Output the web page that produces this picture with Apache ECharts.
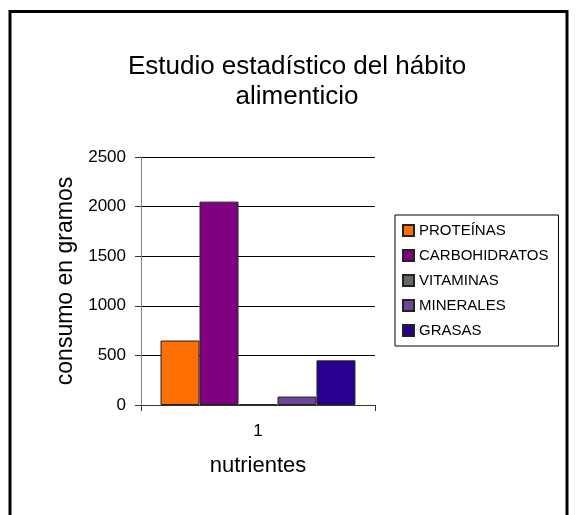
<!DOCTYPE html>
<html>
<head>
<meta charset="utf-8">
<script src="https://cdn.jsdelivr.net/npm/echarts@6/dist/echarts.min.js"></script>
<style>html,body{margin:0;padding:0;background:#fff;}#c{width:577px;height:515px;}</style>
</head>
<body>
<div id="c"></div>
<script>
var categories = ['1'];
var seriesNames = ['PROTEÍNAS', 'CARBOHIDRATOS', 'VITAMINAS', 'MINERALES', 'GRASAS'];
var proteinas = [650];
var carbohidratos = [2050];
var vitaminas = [5];
var minerales = [85];
var grasas = [450];
var seriesValues = [proteinas, carbohidratos, vitaminas, minerales, grasas];
var colors = ['#FF6E00', '#800080', '#666666', '#6E4597', '#28008F'];
var yTicks = [0, 500, 1000, 1500, 2000, 2500];

var font = '"Liberation Sans", Arial, sans-serif';
var chart = echarts.init(document.getElementById('c'), null, {renderer: 'canvas'});
var series = seriesNames.map(function (n, i) {
  return {
    name: n,
    type: 'bar',
    data: seriesValues[i],
    barGap: '0%',
    barCategoryGap: '16.7%',
    itemStyle: {color: colors[i], borderColor: '#222', borderWidth: 1},
    emphasis: {disabled: true}
  };
});
chart.setOption({
  animation: false,
  backgroundColor: '#fff',
  title: {
    text: 'Estudio estadístico del hábito\nalimenticio',
    left: 292, top: 47, textAlign: 'center',
    textStyle: {fontFamily: font, fontSize: 26, fontWeight: 'normal', color: '#000', lineHeight: 30}
  },
  graphic: [{
    type: 'rect', shape: {x: 10, y: 11.5, width: 557, height: 530},
    style: {fill: 'none', stroke: '#000', lineWidth: 3}, silent: true
  }],
  legend: {
    orient: 'vertical', left: 395, top: 215,
    itemWidth: 11, itemHeight: 11, itemGap: 10, icon: 'rect',
    padding: [8, 10, 8, 7],
    borderColor: '#000', borderWidth: 1,
    textStyle: {fontFamily: font, fontSize: 15, color: '#000', lineHeight: 15},
    data: seriesNames
  },
  grid: {left: 141, right: 202, top: 157, bottom: 110, containLabel: false},
  xAxis: {
    type: 'category', data: categories,
    name: 'nutrientes', nameLocation: 'middle', nameGap: 50,
    nameTextStyle: {fontFamily: font, fontSize: 22, color: '#000'},
    axisLine: {lineStyle: {color: '#333', width: 1}},
    axisTick: {show: true, length: 6, lineStyle: {color: '#333'}},
    axisLabel: {fontFamily: font, fontSize: 17, color: '#000', margin: 18}
  },
  yAxis: {
    type: 'value', min: 0, max: 2500, interval: 500,
    name: 'consumo en gramos', nameLocation: 'middle', nameRotate: 90, nameGap: 64,
    nameTextStyle: {fontFamily: font, fontSize: 23, color: '#000'},
    axisLine: {show: true, lineStyle: {color: '#808080', width: 1}},
    axisTick: {show: true, length: 6, lineStyle: {color: '#333'}},
    splitLine: {show: true, lineStyle: {color: '#000', width: 1}},
    axisLabel: {fontFamily: font, fontSize: 17, color: '#000', margin: 15,
      formatter: function (v) { return yTicks.indexOf(v) >= 0 ? String(v) : ''; }}
  },
  series: series
});
</script>
</body>
</html>
